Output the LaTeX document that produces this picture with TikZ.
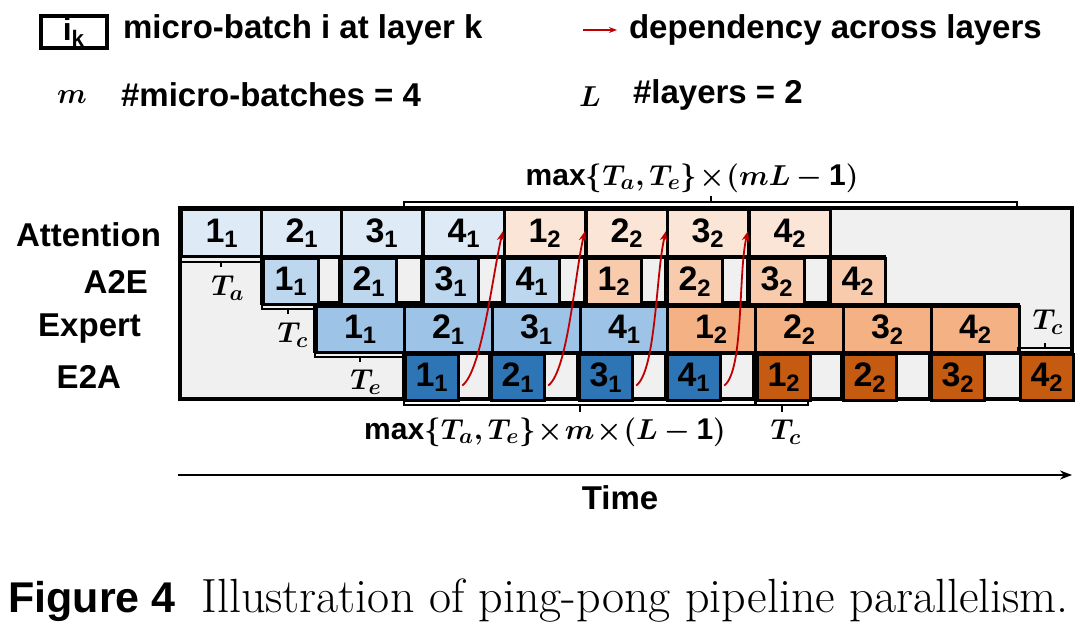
\documentclass[tikz,border=0pt]{standalone}
\usepackage{amsmath,bm}
\usepackage{fontspec}
\setmainfont{Liberation Sans}
\newfontfamily\lmr{Latin Modern Roman}
\usetikzlibrary{arrows.meta}
\definecolor{aA}{HTML}{DEEBF7}\definecolor{bA}{HTML}{BDD7EE}\definecolor{cA}{HTML}{9DC3E6}\definecolor{dA}{HTML}{2E75B6}
\definecolor{aB}{HTML}{FBE5D6}\definecolor{bB}{HTML}{F8CBAD}\definecolor{cB}{HTML}{F4B183}\definecolor{dB}{HTML}{C55A11}
\definecolor{bg}{HTML}{F0F0F0}
\definecolor{dep}{HTML}{C00000}
\tikzset{
 cell/.style={draw=black,line width=1.6pt,inner sep=0pt,font=\fontsize{17}{17}\bfseries},
 lab/.style={font=\fontsize{16.5}{16.5}\bfseries},
 brk/.style={draw=black,line width=0.7pt},
 mth/.style={font=\fontsize{15}{15}\selectfont},
 dep/.style={draw=dep,line width=0.9pt,-{Stealth[length=5pt]}}
}
\newcommand{\mb}[2]{#1\textsubscript{#2}}
\begin{document}
\begin{tikzpicture}[x=0.5pt,y=-0.5pt]
\useasboundingbox (0,0) rectangle (1080,625);
% frame
\filldraw[fill=bg,line width=1.6pt] (180,208) rectangle (1072,399);
% row background cells
\filldraw[fill=bg,line width=1.6pt] (262,257) rectangle (884,303);
\filldraw[fill=bg,line width=1.6pt] (315,305) rectangle (1018,351);
\filldraw[fill=bg,line width=1.6pt] (404,353) rectangle (1072,399);
\foreach \x in {340,422,503,585,666,748,829}{\draw[line width=1.6pt] (\x,257)--(\x,303);}
\foreach \x in {490,578,666,754,842,930}{\draw[line width=1.6pt] (\x,353)--(\x,399);}
% attention
\foreach \i/\x/\c/\k in {1/180/aA/1,2/260/aA/1,3/340/aA/1,4/422/aA/1,5/503/aB/2,6/585/aB/2,7/666/aB/2,8/748/aB/2}{
 \pgfmathtruncatemacro\n{mod(\i-1,4)+1}
 \node[cell,fill=\c,minimum width=81*0.5pt,minimum height=47*0.5pt,anchor=north west] (at\i) at (\x,208) {\mb{\n}{\k}};}
% A2E
\foreach \i/\x/\c/\k in {1/262/bA/1,2/340/bA/1,3/422/bA/1,4/503/bA/1,5/585/bB/2,6/666/bB/2,7/748/bB/2,8/829/bB/2}{
 \pgfmathtruncatemacro\n{mod(\i-1,4)+1}
 \node[cell,fill=\c,minimum width=55*0.5pt,minimum height=46*0.5pt,anchor=north west] (ae\i) at (\x,257) {\mb{\n}{\k}};}
% Expert
\foreach \i/\x/\c/\k in {1/315/cA/1,2/403/cA/1,3/491/cA/1,4/579/cA/1,5/666/cB/2,6/754/cB/2,7/842/cB/2,8/930/cB/2}{
 \pgfmathtruncatemacro\n{mod(\i-1,4)+1}
 \node[cell,fill=\c,minimum width=88*0.5pt,minimum height=46*0.5pt,anchor=north west] (ex\i) at (\x,305) {\mb{\n}{\k}};}
% E2A
\foreach \i/\x/\c/\k in {1/404/dA/1,2/490/dA/1,3/578/dA/1,4/666/dA/1,5/756/dB/2,6/842/dB/2,7/930/dB/2,8/1019/dB/2}{
 \pgfmathtruncatemacro\n{mod(\i-1,4)+1}
 \node[cell,fill=\c,minimum width=53*0.5pt,minimum height=46*0.5pt,anchor=north west] (ea\i) at (\x,353) {\mb{\n}{\k}};}
% row labels
\node[lab,anchor=east] (lA) at (168,235) {Attention};
\node[lab,anchor=east] (lB) at (155,282) {A2E};
\node[lab,anchor=east] (lC) at (148,329) {Expert};
\node[lab,anchor=east] (lD) at (128,377) {E2A};
% small brackets
\draw[brk] (180,258)--(180,262)--(262,262)--(262,258) (221,262)--(221,267);
\node[mth] (ta) at (228,288) {$\bm{T_a}$};
\draw[brk] (262,305)--(262,309)--(315,309)--(315,305) (288,309)--(288,314);
\node[mth] (tc1) at (293,335) {$\bm{T_c}$};
\draw[brk] (315,353)--(315,357)--(404,357)--(404,353) (360,357)--(360,362);
\node[mth] (te) at (366,382) {$\bm{T_e}$};
\draw[brk] (1018,352)--(1018,348)--(1072,348)--(1072,352) (1045,348)--(1045,343);
\node[mth] (tc2) at (1048,322) {$\bm{T_c}$};
% big braces
\draw[brk] (404,208)--(404,202)--(1017,202)--(1017,208) (711,202)--(711,196);
\node[mth] (top) at (692,178) {$\mathbf{max}\bm{\{T_a,T_e\}\!\times\!(mL-}\mathbf{1}\bm{)}$};
\draw[brk] (404,399)--(404,405)--(755,405)--(755,399) (580,405)--(580,412);
\node[mth] (bot) at (545,432) {$\mathbf{max}\bm{\{T_a,T_e\}\!\times\! m\!\times\!(L-}\mathbf{1}\bm{)}$};
\draw[brk] (756,399)--(756,405)--(808,405)--(808,399) (782,405)--(782,412);
\node[mth] (tc3) at (786,432) {$\bm{T_c}$};
% dependencies
\foreach \a/\b in {1/5,2/6,3/7,4/8}{
 \draw[dep] ([xshift=1pt,yshift=-4pt]ea\a.east) .. controls +(20,-15) and +(-10,40) .. ([yshift=1pt]at\b.west);}
% legend
\node[cell,fill=white,minimum width=66*0.5pt,minimum height=32*0.5pt,font=\fontsize{16}{16}\bfseries] (lg) at (74,32) {i\textsubscript{k}};
\node[lab,anchor=west] (lgt) at (116,30) {micro-batch i at layer k};
\coordinate (d1) at (583,30); \coordinate (d2) at (617,30);
\draw[dep,-{Stealth[length=4pt]}] (d1)--(d2);
\node[lab,anchor=west] (dpt) at (622,30) {dependency across layers};
\node[mth] (mm) at (72,97) {$\bm{m}$};
\node[lab,anchor=west] (mt) at (114,95) {\#micro-batches = 4};
\node[mth] (ll) at (590,97) {$\bm{L}$};
\node[lab,anchor=west] (lt) at (626,95) {\#layers = 2};
% time
\coordinate (t1) at (178,475); \coordinate (t2) at (1072,475);
\draw[line width=0.9pt,-{Stealth[length=6pt]}] (t1)--(t2);
\node[lab] (time) at (620,498) {Time};
% caption
\node[anchor=west,inner sep=0pt] (cap) at (8,601) {\fontsize{21.5}{21.5}\selectfont\textbf{Figure 4}\hspace{0.6em}\fontsize{24}{24}\selectfont\lmr Illustration of ping-pong pipeline parallelism.};
\end{tikzpicture}
\end{document}
